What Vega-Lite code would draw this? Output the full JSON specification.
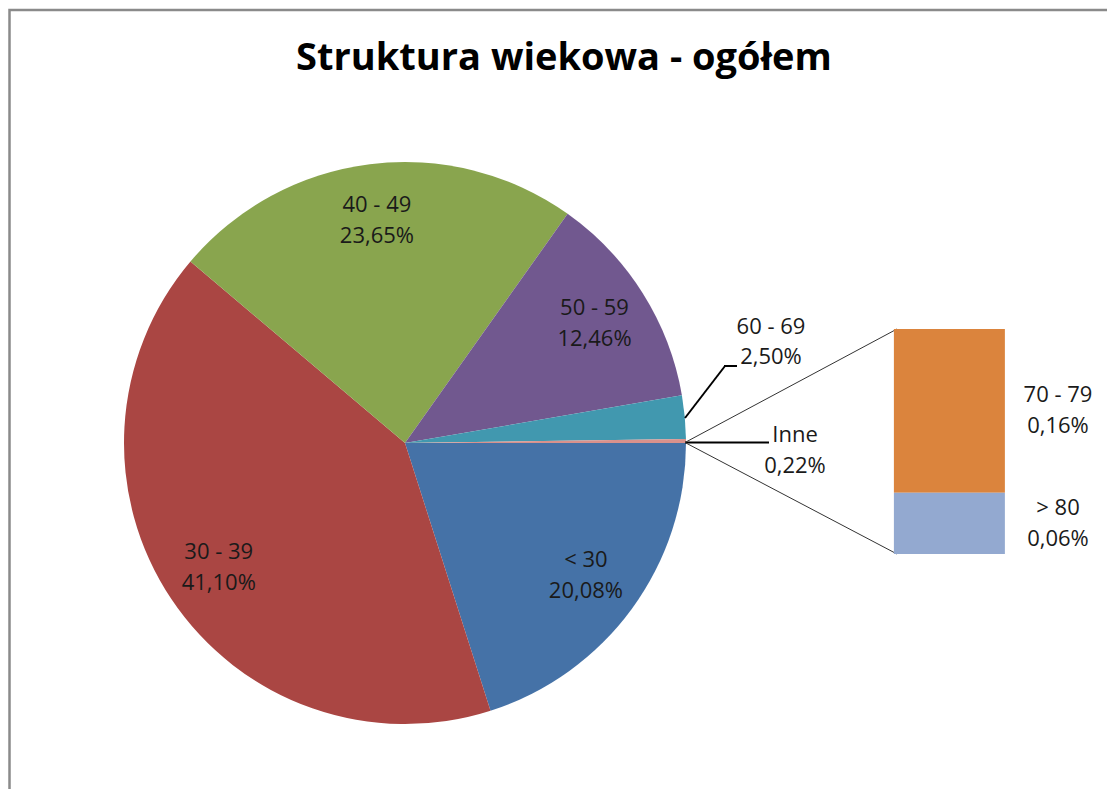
{
  "$schema": "https://vega.github.io/schema/vega-lite/v6.json",
  "width": 1107,
  "height": 789,
  "padding": 0,
  "autosize": {"type": "none"},
  "background": "white",
  "config": {
    "view": {"stroke": null},
    "locale": {"number": {"decimal": ",", "thousands": " ", "grouping": [3], "currency": ["", " zł"]}},
    "text": {"font": "Open Sans", "fontSize": 22, "color": "#1a1a1a"}
  },
  "data": {"values": [{"tytul": "Struktura wiekowa - ogółem"}]},
  "datasets": {
    "pie": [
      {"grupa": "< 30", "udzial": 0.2008, "nr": 1},
      {"grupa": "30 - 39", "udzial": 0.4110, "nr": 2},
      {"grupa": "40 - 49", "udzial": 0.2365, "nr": 3},
      {"grupa": "50 - 59", "udzial": 0.1246, "nr": 4},
      {"grupa": "60 - 69", "udzial": 0.0250, "nr": 5},
      {"grupa": "Inne", "udzial": 0.0022, "nr": 6}
    ],
    "bar": [
      {"grupa": "70 - 79", "udzial": 0.0016, "nr": 7},
      {"grupa": "> 80", "udzial": 0.0006, "nr": 8}
    ]
  },
  "resolve": {"scale": {"x": "independent", "y": "independent"}},
  "layer": [
    {
      "mark": {"type": "rect", "fill": null, "stroke": "#8a8a8a", "strokeWidth": 2.5},
      "encoding": {
        "x": {"datum": 9.5, "type": "quantitative", "scale": {"domain": [0, 1107], "range": [0, 1107], "nice": false, "zero": false}, "axis": null},
        "x2": {"datum": 1130},
        "y": {"datum": 10, "type": "quantitative", "scale": {"domain": [0, 789], "range": [0, 789], "nice": false, "zero": false}, "axis": null},
        "y2": {"datum": 810}
      }
    },
    {
      "mark": {"type": "text", "fontSize": 38, "fontWeight": "bold", "align": "center", "baseline": "alphabetic", "color": "#000000"},
      "encoding": {
        "x": {"datum": 564, "type": "quantitative", "scale": {"domain": [0, 1107], "range": [0, 1107], "nice": false, "zero": false}, "axis": null},
        "y": {"datum": 70, "type": "quantitative", "scale": {"domain": [0, 789], "range": [0, 789], "nice": false, "zero": false}, "axis": null},
        "text": {"field": "tytul"}
      }
    },
    {
      "data": {"name": "pie"},
      "mark": {"type": "arc", "x": 405, "y": 443, "radius": 281},
      "encoding": {
        "theta": {"field": "udzial", "type": "quantitative", "stack": true, "scale": {"range": [1.5707963, 7.8539816]}},
        "order": {"field": "nr", "type": "quantitative"},
        "color": {"field": "grupa", "type": "nominal", "legend": null,
          "scale": {"domain": ["< 30", "30 - 39", "40 - 49", "50 - 59", "60 - 69", "Inne", "70 - 79", "> 80"],
                    "range": ["#4572A7", "#AA4643", "#89A54E", "#71588F", "#4198AF", "#D9918C", "#DB843D", "#93A9D0"]}}
      }
    },
    {
      "data": {"name": "pie"},
      "mark": {"type": "text", "x": 405, "y": 443, "radius": 224, "dy": -15.5, "align": "center", "baseline": "middle"},
      "encoding": {
        "theta": {"field": "udzial", "type": "quantitative", "stack": true, "scale": {"range": [1.5707963, 7.8539816]}},
        "order": {"field": "nr", "type": "quantitative"},
        "text": {"condition": {"test": "datum.nr <= 4", "field": "grupa"}, "value": ""}
      }
    },
    {
      "data": {"name": "pie"},
      "mark": {"type": "text", "x": 405, "y": 443, "radius": 224, "dy": 15.5, "align": "center", "baseline": "middle"},
      "encoding": {
        "theta": {"field": "udzial", "type": "quantitative", "stack": true, "scale": {"range": [1.5707963, 7.8539816]}},
        "order": {"field": "nr", "type": "quantitative"},
        "text": {"condition": {"test": "datum.nr <= 4", "field": "udzial", "type": "quantitative", "format": ".2%"}, "value": ""}
      }
    },
    {
      "data": {"name": "pie"},
      "transform": [{"filter": "datum.grupa == '60 - 69'"}],
      "mark": {"type": "text", "align": "center", "baseline": "middle", "dy": -15},
      "encoding": {
        "x": {"datum": 771, "type": "quantitative", "scale": {"domain": [0, 1107], "range": [0, 1107], "nice": false, "zero": false}, "axis": null},
        "y": {"datum": 342, "type": "quantitative", "scale": {"domain": [0, 789], "range": [0, 789], "nice": false, "zero": false}, "axis": null},
        "text": {"field": "grupa"}
      }
    },
    {
      "data": {"name": "pie"},
      "transform": [{"filter": "datum.grupa == '60 - 69'"}],
      "mark": {"type": "text", "align": "center", "baseline": "middle", "dy": 15},
      "encoding": {
        "x": {"datum": 771, "type": "quantitative", "scale": {"domain": [0, 1107], "range": [0, 1107], "nice": false, "zero": false}, "axis": null},
        "y": {"datum": 342, "type": "quantitative", "scale": {"domain": [0, 789], "range": [0, 789], "nice": false, "zero": false}, "axis": null},
        "text": {"field": "udzial", "type": "quantitative", "format": ".2%"}
      }
    },
    {
      "data": {"name": "pie"},
      "transform": [{"filter": "datum.grupa == 'Inne'"}],
      "mark": {"type": "text", "align": "center", "baseline": "middle", "dy": -15.5},
      "encoding": {
        "x": {"datum": 795, "type": "quantitative", "scale": {"domain": [0, 1107], "range": [0, 1107], "nice": false, "zero": false}, "axis": null},
        "y": {"datum": 450, "type": "quantitative", "scale": {"domain": [0, 789], "range": [0, 789], "nice": false, "zero": false}, "axis": null},
        "text": {"field": "grupa"}
      }
    },
    {
      "data": {"name": "pie"},
      "transform": [{"filter": "datum.grupa == 'Inne'"}],
      "mark": {"type": "text", "align": "center", "baseline": "middle", "dy": 15.5},
      "encoding": {
        "x": {"datum": 795, "type": "quantitative", "scale": {"domain": [0, 1107], "range": [0, 1107], "nice": false, "zero": false}, "axis": null},
        "y": {"datum": 450, "type": "quantitative", "scale": {"domain": [0, 789], "range": [0, 789], "nice": false, "zero": false}, "axis": null},
        "text": {"field": "udzial", "type": "quantitative", "format": ".2%"}
      }
    },
    {
      "mark": {"type": "rule", "stroke": "#000000", "strokeWidth": 2},
      "encoding": {
        "x": {"datum": 685, "type": "quantitative", "scale": {"domain": [0, 1107], "range": [0, 1107], "nice": false, "zero": false}, "axis": null},
        "x2": {"datum": 725},
        "y": {"datum": 418, "type": "quantitative", "scale": {"domain": [0, 789], "range": [0, 789], "nice": false, "zero": false}, "axis": null},
        "y2": {"datum": 366}
      }
    },
    {
      "mark": {"type": "rule", "stroke": "#000000", "strokeWidth": 2},
      "encoding": {
        "x": {"datum": 724, "type": "quantitative", "scale": {"domain": [0, 1107], "range": [0, 1107], "nice": false, "zero": false}, "axis": null},
        "x2": {"datum": 737},
        "y": {"datum": 366, "type": "quantitative", "scale": {"domain": [0, 789], "range": [0, 789], "nice": false, "zero": false}, "axis": null},
        "y2": {"datum": 366}
      }
    },
    {
      "mark": {"type": "rule", "stroke": "#000000", "strokeWidth": 2},
      "encoding": {
        "x": {"datum": 685, "type": "quantitative", "scale": {"domain": [0, 1107], "range": [0, 1107], "nice": false, "zero": false}, "axis": null},
        "x2": {"datum": 769},
        "y": {"datum": 442.5, "type": "quantitative", "scale": {"domain": [0, 789], "range": [0, 789], "nice": false, "zero": false}, "axis": null},
        "y2": {"datum": 442.5}
      }
    },
    {
      "mark": {"type": "rule", "stroke": "#333333", "strokeWidth": 1},
      "encoding": {
        "x": {"datum": 685, "type": "quantitative", "scale": {"domain": [0, 1107], "range": [0, 1107], "nice": false, "zero": false}, "axis": null},
        "x2": {"datum": 897},
        "y": {"datum": 442.5, "type": "quantitative", "scale": {"domain": [0, 789], "range": [0, 789], "nice": false, "zero": false}, "axis": null},
        "y2": {"datum": 329}
      }
    },
    {
      "mark": {"type": "rule", "stroke": "#333333", "strokeWidth": 1},
      "encoding": {
        "x": {"datum": 685, "type": "quantitative", "scale": {"domain": [0, 1107], "range": [0, 1107], "nice": false, "zero": false}, "axis": null},
        "x2": {"datum": 897},
        "y": {"datum": 442.5, "type": "quantitative", "scale": {"domain": [0, 789], "range": [0, 789], "nice": false, "zero": false}, "axis": null},
        "y2": {"datum": 554}
      }
    },
    {
      "data": {"name": "bar"},
      "mark": {"type": "bar", "orient": "vertical"},
      "encoding": {
        "x": {"datum": 897, "type": "quantitative", "scale": {"domain": [0, 1107], "range": [0, 1107], "nice": false, "zero": false}, "axis": null},
        "x2": {"datum": 1009},
        "y": {"field": "udzial", "type": "quantitative", "stack": "zero", "scale": {"domain": [0, 0.0022], "range": [554, 329], "nice": false}, "axis": null},
        "order": {"field": "nr", "type": "quantitative", "sort": "descending"},
        "color": {"field": "grupa", "type": "nominal", "legend": null,
          "scale": {"domain": ["< 30", "30 - 39", "40 - 49", "50 - 59", "60 - 69", "Inne", "70 - 79", "> 80"],
                    "range": ["#4572A7", "#AA4643", "#89A54E", "#71588F", "#4198AF", "#D9918C", "#DB843D", "#93A9D0"]}}
      }
    },
    {
      "data": {"name": "bar"},
      "mark": {"type": "text", "align": "center", "baseline": "middle", "dy": -15.5},
      "encoding": {
        "x": {"datum": 1058, "type": "quantitative", "scale": {"domain": [0, 1107], "range": [0, 1107], "nice": false, "zero": false}, "axis": null},
        "y": {"field": "udzial", "type": "quantitative", "stack": "zero", "bandPosition": 0.5, "scale": {"domain": [0, 0.0022], "range": [554, 329], "nice": false}, "axis": null},
        "order": {"field": "nr", "type": "quantitative", "sort": "descending"},
        "text": {"field": "grupa"}
      }
    },
    {
      "data": {"name": "bar"},
      "mark": {"type": "text", "align": "center", "baseline": "middle", "dy": 15.5},
      "encoding": {
        "x": {"datum": 1058, "type": "quantitative", "scale": {"domain": [0, 1107], "range": [0, 1107], "nice": false, "zero": false}, "axis": null},
        "y": {"field": "udzial", "type": "quantitative", "stack": "zero", "bandPosition": 0.5, "scale": {"domain": [0, 0.0022], "range": [554, 329], "nice": false}, "axis": null},
        "order": {"field": "nr", "type": "quantitative", "sort": "descending"},
        "text": {"field": "udzial", "type": "quantitative", "format": ".2%"}
      }
    }
  ]
}
